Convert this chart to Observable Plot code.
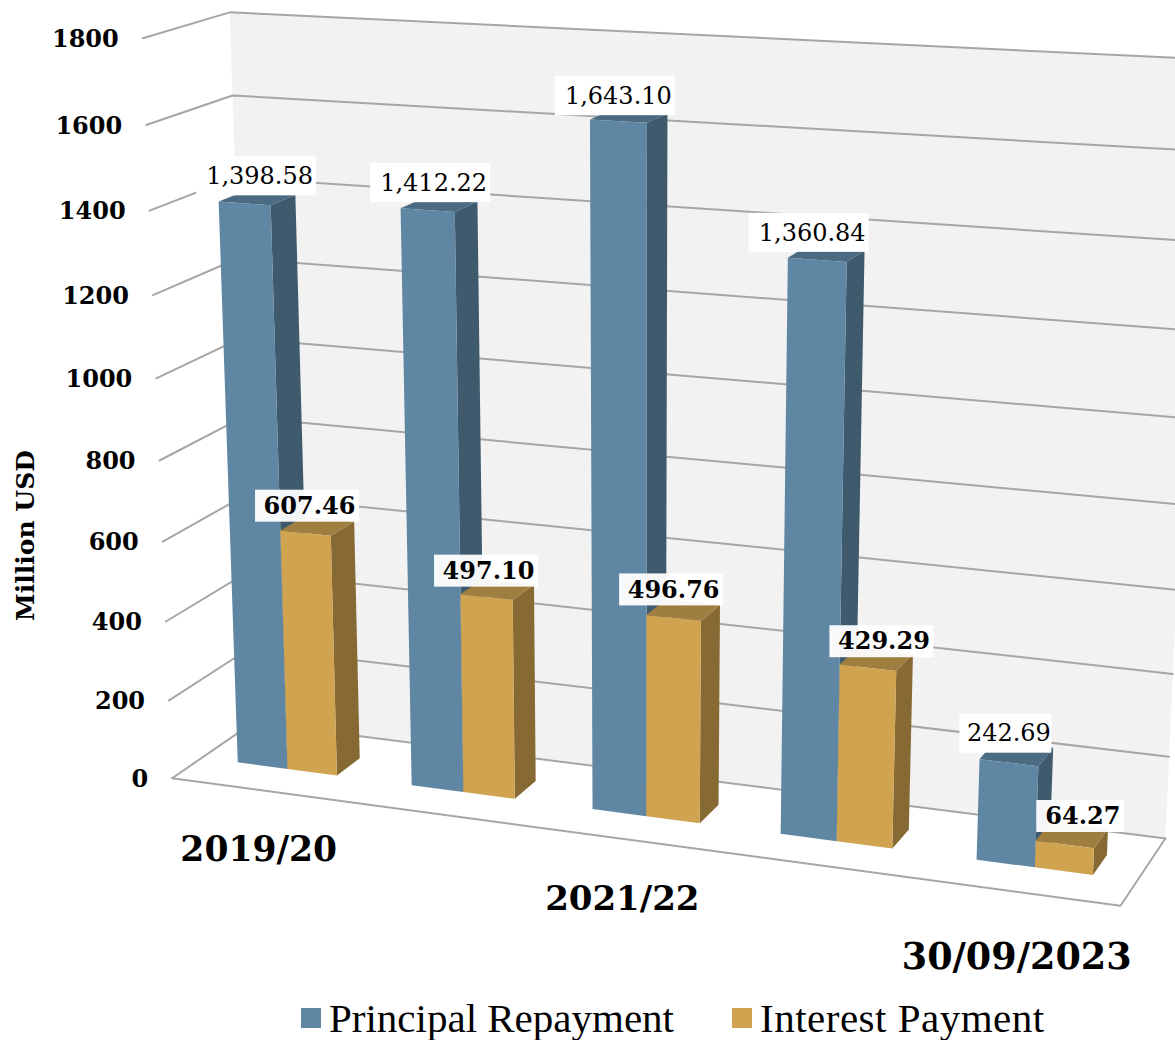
<!DOCTYPE html>
<html>
<head>
<meta charset="utf-8">
<script src="https://cdn.jsdelivr.net/npm/d3@7"></script>
<script src="https://cdn.jsdelivr.net/npm/@observablehq/plot@0.6"></script>
<style>
  html, body { margin: 0; background: #fff; }
  #legend { display: flex; align-items: center; height: 55px; padding-left: 301px; box-sizing: border-box;
            padding-top: 10px; font-family: "Liberation Serif", serif; font-size: 41px; color: #000; }
  #legend i { display: inline-block; width: 20px; height: 20px; margin-right: 8px; }
  #legend span { display: inline-flex; align-items: center; margin-right: 58px; }
  #legend span:last-child { letter-spacing: 0.5px; }
</style>
</head>
<body>
<div id="chart"></div>
<div id="legend"></div>
<script>
// Debt service by fiscal year, million USD
const categories = ["2019/20", "2020/21", "2021/22", "2022/23", "30/09/2023"];
const principal = [1398.58, 1412.22, 1643.10, 1360.84, 242.69];
const interest = [607.46, 497.10, 496.76, 429.29, 64.27];
const axisTicks = [0, 200, 400, 600, 800, 1000, 1200, 1400, 1600, 1800];
const shownCategories = ["2019/20", "2021/22", "30/09/2023"];
const seriesNames = ["Principal Repayment", "Interest Payment"];

const W = 1175, H = 985, VMAX = 1800;
const palette = {
  principal: {front: "#5f86a3", side: "#3f5a6c", top: "#4a6b82"},
  interest: {front: "#cfa34f", side: "#866933", top: "#9f7f3f"}
};

// Pinhole camera for the 3D box: u = category slot, v = value, w = depth (0 front, 1 back).
const cameraAnchors = [
  [0, 0, 0, 172, 778], [5, 0, 0, 1121, 905], [0, 1800, 0, 142, 37],
  [0, 800, 0, 160, 458], [0, 1600, 0, 146, 124], [0, 0, 1, 251, 723],
  [5, 0, 1, 1164, 837], [0, 1800, 1, 230, 12], [0, 1600, 1, 233, 94],
  [5, 200, 1, 1168, 755], [5, 1800, 1, 1203, 59],
  [0.21, 1398.58, 0.36, 218, 202], [1.21, 1412.22, 0.36, 400, 208],
  [2.21, 1643.1, 0.36, 588, 120], [3.21, 1360.84, 0.36, 786, 258],
  [2.5, 1643.1, 0.36, 645, 123], [3.5, 1360.84, 0.36, 845, 261],
  [2.21, 0, 0.36, 593, 809], [3.21, 0, 0.36, 781, 835]
];

function solve(A, b) {
  const n = b.length, M = A.map((r, i) => [...r, b[i]]);
  for (let c = 0; c < n; c++) {
    let p = c;
    for (let r = c + 1; r < n; r++) if (Math.abs(M[r][c]) > Math.abs(M[p][c])) p = r;
    [M[c], M[p]] = [M[p], M[c]];
    for (let r = 0; r < n; r++) {
      if (r === c) continue;
      const f = M[r][c] / M[c][c];
      for (let k = c; k <= n; k++) M[r][k] -= f * M[c][k];
    }
  }
  return M.map((r, i) => r[n] / r[i]);
}

function fitCamera(anchors) {
  const rows = [], rhs = [];
  for (const [u, v, w, x, y] of anchors) {
    const Y = v / VMAX;
    rows.push([u, Y, w, 1, 0, 0, 0, 0, -x * u, -x * Y, -x * w]); rhs.push(x);
    rows.push([0, 0, 0, 0, u, Y, w, 1, -y * u, -y * Y, -y * w]); rhs.push(y);
  }
  const n = 11;
  const AtA = d3.range(n).map(i => d3.range(n).map(j => d3.sum(rows, r => r[i] * r[j])));
  const Atb = d3.range(n).map(i => d3.sum(rows, (r, k) => r[i] * rhs[k]));
  return solve(AtA, Atb);
}

const cam = fitCamera(cameraAnchors);
function project(u, v, w) {
  const Y = v / VMAX;
  const d = cam[8] * u + cam[9] * Y + cam[10] * w + 1;
  return [
    (cam[0] * u + cam[1] * Y + cam[2] * w + cam[3]) / d,
    (cam[4] * u + cam[5] * Y + cam[6] * w + cam[7]) / d
  ];
}

// Builds flat polygon rows for Plot.line: each face has an id and a fill.
let faceId = 0;
function face(points, fill) {
  const id = faceId++;
  return points.map(([u, v, w]) => {
    const [x, y] = project(u, v, w);
    return {id, x, y, fill};
  });
}

const W0 = 0.36, W1 = 0.66;       // bar depth span
const SLOT = [0.21, 0.5, 0.785];  // bar edges inside a category slot

function barFaces(i, a, b, value, colors) {
  const u0 = i + a, u1 = i + b;
  return [
    ...face([[u1, 0, W0], [u1, 0, W1], [u1, value, W1], [u1, value, W0]], colors.side),
    ...face([[u0, value, W0], [u1, value, W0], [u1, value, W1], [u0, value, W1]], colors.top),
    ...face([[u0, 0, W0], [u1, 0, W0], [u1, value, W0], [u0, value, W0]], colors.front)
  ];
}

const wall = face([[0, 0, 1], [5, 0, 1], [5, VMAX, 1], [0, VMAX, 1]], "#f2f2f2");
const bars = categories.flatMap((c, i) => [
  ...barFaces(i, SLOT[0], SLOT[1], principal[i], palette.principal),
  ...barFaces(i, SLOT[1], SLOT[2], interest[i], palette.interest)
]);

// Gridlines run along the side wall, then along the back wall.
const gridLines = axisTicks.flatMap(v =>
  [project(0, v, 0), project(0, v, 1), project(5, v, 1)].map(([x, y]) => ({v, x, y})));
const floorEdge = [project(0, 0, 0), project(5, 0, 0), project(5, 0, 1)].map(([x, y]) => ({x, y}));

const tickLabels = axisTicks.map(v => {
  const [x, y] = project(0, v, 0);
  return {text: String(v), x: x - 24, y: y + 1};
});

// Category captions hang below the floor's front edge.
const captionLayout = {"2019/20": [60, 34.5], "2021/22": [60, 34], "30/09/2023": [66, 36.5]};
const captions = shownCategories.map(c => {
  const i = categories.indexOf(c);
  const [x, y] = project(i + 0.5, 0, 0);
  const [dy, size] = captionLayout[c];
  return {text: c, x, y: y + dy, size};
});

// Small per-bar shifts that keep each label clear of its bar's top face.
const principalShift = [[15, -27], [6, -27], [0, -25], [-5, -27], [0, -29]];
const interestShift = [[4, -27], [2, -26], [0, -28], [16, -26], [18, -28]];

const fmt = d3.format(",.2f");
function valueLabel(value, i, a, b, [dx, dy], h, perChar, boxShift) {
  const [px, py] = project(i + (a + b) / 2, value, W0);
  const x = px + dx, y = py + dy;
  const text = fmt(value);
  const width = text.length * perChar + 8;
  return {text, x, y, x1: x + boxShift - width / 2, x2: x + boxShift + width / 2,
          y1: y - h / 2, y2: y + h / 2};
}
const principalLabels = principal.map((v, i) => valueLabel(v, i, SLOT[0], SLOT[1], principalShift[i], 39, 14, -3));
const interestLabels = interest.map((v, i) => valueLabel(v, i, SLOT[1], SLOT[2], interestShift[i], 32, 16, -2));

const chart = Plot.plot({
  width: W, height: H,
  margin: 0,
  x: {domain: [0, W], range: [0, W], axis: null},
  y: {domain: [0, H], range: [0, H], axis: null},
  marks: [
    Plot.line(wall, {x: "x", y: "y", z: "id", fill: "fill", stroke: "none"}),
    Plot.line(gridLines, {x: "x", y: "y", z: "v", stroke: "#a6a6a6", strokeWidth: 2, curve: "linear"}),
    Plot.line(floorEdge, {x: "x", y: "y", stroke: "#a6a6a6", strokeWidth: 2}),
    Plot.line(bars, {x: "x", y: "y", z: "id", fill: "fill", stroke: "none"}),
    Plot.rect(principalLabels, {x1: "x1", x2: "x2", y1: "y1", y2: "y2", fill: "#fff"}),
    Plot.rect(interestLabels, {x1: "x1", x2: "x2", y1: "y1", y2: "y2", fill: "#fff", fillOpacity: 0.95}),
    Plot.text(principalLabels, {x: "x", y: "y", text: "text", fontFamily: "DejaVu Serif", fontSize: 24, fill: "#000"}),
    Plot.text(interestLabels, {x: "x", y: "y", text: "text", fontFamily: "DejaVu Serif", fontWeight: "bold", fontSize: 24, fill: "#000"}),
    Plot.text(tickLabels, {x: "x", y: "y", text: "text", textAnchor: "end", fontFamily: "DejaVu Serif", fontWeight: "bold", fontSize: 24, fill: "#000"}),
    Plot.text(captions, {x: "x", y: "y", text: "text", fontFamily: "DejaVu Serif", fontWeight: "bold", fontSize: "size", fill: "#000"}),
    Plot.text(["Million USD"], {x: 25, y: 535, text: d => d, rotate: -90, fontFamily: "DejaVu Serif", fontWeight: "bold", fontSize: 25, fill: "#000"})
  ]
});
document.getElementById("chart").append(chart);

const legendColors = [palette.principal.front, palette.interest.front];
document.getElementById("legend").innerHTML = seriesNames
  .map((name, i) => `<span><i style="background:${legendColors[i]}"></i>${name}</span>`).join("");
</script>
</body>
</html>
